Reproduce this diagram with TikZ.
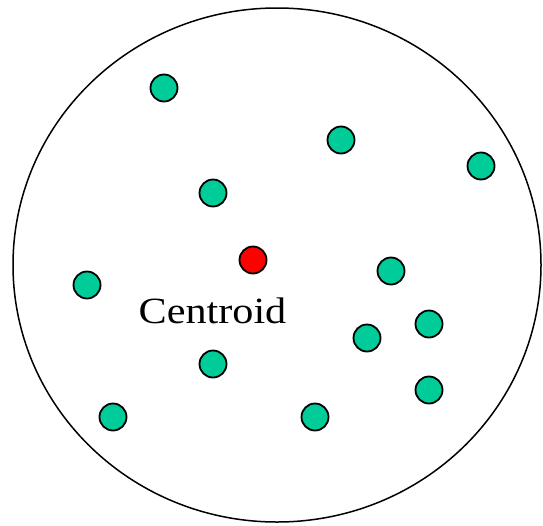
\documentclass[tikz,border=0pt]{standalone}
\usepackage{fontspec}
\setmainfont{Liberation Serif}
\definecolor{dotgreen}{RGB}{0,204,153}
\definecolor{dotred}{RGB}{255,0,0}
\begin{document}
\begin{tikzpicture}[x=1pt,y=-1pt,
  pt/.style={circle,draw=black,line width=1.8pt,fill=dotgreen,minimum size=27pt,inner sep=0pt},
  cpt/.style={pt,fill=dotred}]
\useasboundingbox (0,0) rectangle (543,525);
\draw[line width=1.5pt] (277,265) ellipse [x radius=264, y radius=257];
\node[pt] (p1) at (164,88) {};
\node[pt] (p2) at (341,140) {};
\node[pt] (p3) at (481,166) {};
\node[pt] (p4) at (213,193) {};
\node[cpt] (c) at (253,260) {};
\node[pt] (p5) at (391,271) {};
\node[pt] (p6) at (87,285) {};
\node[pt] (p7) at (429,324) {};
\node[pt] (p8) at (367,338) {};
\node[pt] (p9) at (213,364) {};
\node[pt] (p10) at (429,390) {};
\node[pt] (p11) at (113,417) {};
\node[pt] (p12) at (315,417) {};
\node[anchor=base,inner sep=0pt,font=\fontsize{37}{40}\selectfont,xscale=1.14] (lbl) at (212.5,323) {Centroid};
\end{tikzpicture}
\end{document}
